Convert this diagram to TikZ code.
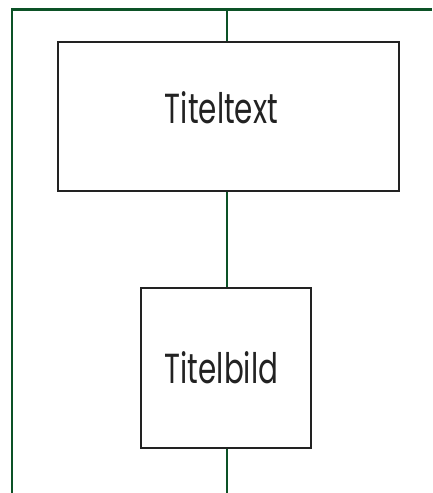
\documentclass[tikz,border=0pt]{standalone}
\usepackage{fontspec}
\setmainfont{Poppins}[FakeStretch=0.7]
\usetikzlibrary{calc}
\definecolor{linegreen}{RGB}{12,82,38}
\definecolor{boxline}{RGB}{34,34,34}
\begin{document}
\begin{tikzpicture}[x=1pt,y=-1pt,
  box/.style={draw=boxline,line width=2.8pt,fill=white,inner sep=0pt},
  lbl/.style={anchor=base,inner sep=0pt,font=\fontsize{42}{46}\selectfont,text=boxline},
  conn/.style={draw=linegreen,line width=2.5pt}]
\useasboundingbox (0,0) rectangle (432,493);
\coordinate (tl) at (12,9.5);
\coordinate (tr) at (432,9.5);
\coordinate (bl) at (12,493);
\coordinate (tm) at (227,9.5);
\coordinate (bm) at (227,493);
\node[box,minimum width=341pt,minimum height=149pt] (titel) at (228.5,116.5) {};
\node[box,minimum width=170pt,minimum height=160pt] (bild) at (226,368) {};
\node[lbl] (titeltext) at (221.5,123.3) {Titeltext};
\node[lbl] (titelbild) at (221.5,383.3) {Titelbild};
\draw[conn] (bl) -- (tl) -- (tr);
\draw[conn] (tm) -- (tm |- titel.north);
\draw[conn] (tm |- titel.south) -- (tm |- bild.north);
\draw[conn] (tm |- bild.south) -- (bm);
\end{tikzpicture}
\end{document}
